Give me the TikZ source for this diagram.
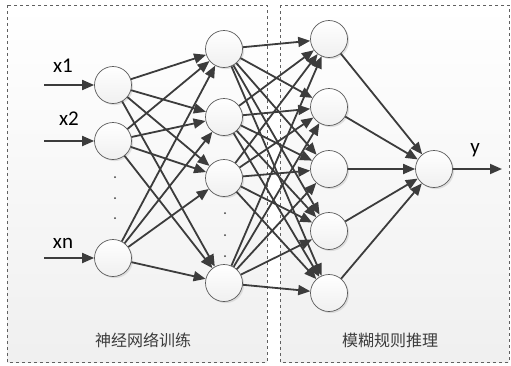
\documentclass[tikz,border=0pt]{standalone}
\usepackage{fontspec}
\setmainfont{Carlito}
\newfontfamily\cjk{Noto Sans CJK SC}
\usetikzlibrary{arrows.meta,shadows}
\definecolor{ln}{HTML}{3C3C3C}
\definecolor{bd}{HTML}{5A5A5A}
\tikzset{
  neuron/.style={circle,minimum size=37pt,inner sep=0pt,draw=bd,line width=0.7pt,
    top color=white,bottom color=gray!12,
    drop shadow={shadow xshift=1.6pt,shadow yshift=-1.6pt,fill=gray!45,opacity=0.5}},
  conn/.style={draw=ln,line width=1.8pt,-{Triangle[length=12pt,width=10pt]}},
  panel/.style={draw=gray!75!black,dashed,line width=0.6pt,top color=white,bottom color=gray!12},
  dotc/.style={fill=ln,circle,inner sep=0pt,minimum size=2pt},
  lab/.style={font=\fontsize{21}{23}\selectfont,text=black,anchor=base},
  captext/.style={font=\cjk\fontsize{16}{18}\selectfont,text=ln}
}
\begin{document}
\begin{tikzpicture}[x=1pt,y=-1pt]
\useasboundingbox (0,0) rectangle (511,365);
\fill[white] (0,0) rectangle (511,365);
\path[panel] (7,5) rectangle (267,362);
\path[panel] (280,5) rectangle (509,362);
\node[captext] (c1) at (143,340) {神经网络训练};
\node[captext] (c2) at (390,340) {模糊规则推理};
% input layer
\node[neuron] (i1) at (113,85) {};
\node[neuron] (i2) at (113,141) {};
\node[neuron] (i3) at (113,258) {};
\foreach \y [count=\k] in {177,198,218} \node[dotc] (id\k) at (115,\y) {};
% hidden 1
\node[neuron] (h1) at (224,49) {};
\node[neuron] (h2) at (224,117) {};
\node[neuron] (h3) at (224,178) {};
\node[neuron] (h4) at (224,283) {};
\foreach \y [count=\k] in {213,235,256} \node[dotc] (hd\k) at (225,\y) {};
% hidden 2
\node[neuron] (f1) at (329,39) {};
\node[neuron] (f2) at (329,107) {};
\node[neuron] (f3) at (329,169) {};
\node[neuron] (f4) at (329,231) {};
\node[neuron] (f5) at (329,293) {};
% output
\node[neuron] (o) at (434,169) {};
% inputs
\coordinate (s1) at (44,85);
\coordinate (s2) at (44,141);
\coordinate (s3) at (44,258);
\coordinate (e) at (502,169);
\draw[conn] (s1) -- (i1);
\draw[conn] (s2) -- (i2);
\draw[conn] (s3) -- (i3);
\node[lab] (lx1) at (63,72) {x1};
\node[lab] (lx2) at (69,125) {x2};
\node[lab] (lxn) at (63,248) {xn};
\node[lab] (ly) at (475,153) {y};
\foreach \a in {i1,i2,i3} \foreach \b in {h1,h2,h3,h4} \draw[conn] (\a) -- (\b);
\foreach \a in {h1,h2,h3,h4} \foreach \b in {f1,f2,f3,f4,f5} \draw[conn] (\a) -- (\b);
\foreach \a in {f1,f2,f3,f4,f5} \draw[conn] (\a) -- (o);
\draw[conn] (o) -- (e);
\end{tikzpicture}
\end{document}
